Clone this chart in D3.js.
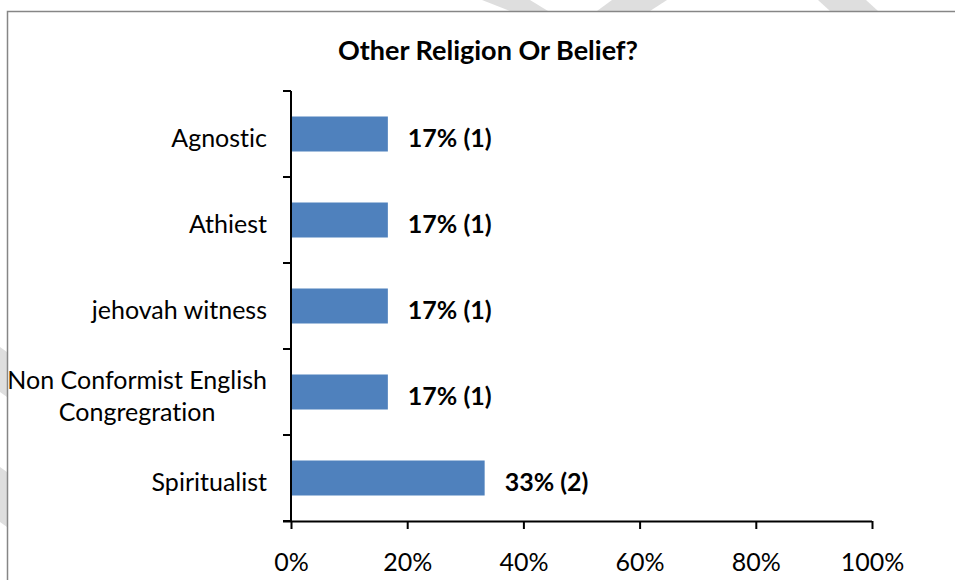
<!DOCTYPE html>
<html><head><meta charset="utf-8">
<script src="https://cdn.jsdelivr.net/npm/d3@7"></script>
<style>
html,body{margin:0;padding:0;background:#fff;overflow:hidden}
text{font-family:Lato,"Open Sans",sans-serif;fill:#000;font-variant-ligatures:none;font-feature-settings:"liga" 0,"clig" 0}
</style></head>
<body><svg id="c" width="955" height="580"></svg>
<script>
const title = "Other Religion Or Belief?";
const categories = ["Agnostic","Athiest","jehovah witness","Non Conformist English Congregration","Spiritualist"];
const categoryLines = [["Agnostic"],["Athiest"],["jehovah witness"],["Non Conformist English","Congregration"],["Spiritualist"]];
const values = [0.1667,0.1667,0.1667,0.1667,0.3333];
const counts = [1,1,1,1,2];
const xTicks = [0,0.2,0.4,0.6,0.8,1.0];

const svg = d3.select("#c");
const W=955,H=580;
const m={left:291,right:83,top:91,bottom:59};

// faint background watermark strokes (outside chart border)
const wm = svg.append("g").attr("fill","#dedede");
[[[482,0],[530,0],[548,11],[510,11]],
 [[612,0],[667,0],[650,11],[597,11]],
 [[818,0],[866,0],[878,11],[830,11]],
 [[0,347],[7,352],[7,397],[0,392]],
 [[0,467],[7,472],[7,527],[0,522]]].forEach(p=>wm.append("polygon").attr("points",p.map(d=>d.join(",")).join(" ")));

// chart frame
svg.append("rect").attr("x",7.5).attr("y",11.5).attr("width",W).attr("height",H)
  .attr("fill","#fff").attr("stroke","#868686").attr("stroke-width",1.5);

const x = d3.scaleLinear().domain([0,1]).range([m.left,W-m.right]);
const y = d3.scaleBand().domain(categories).range([m.top,H-m.bottom]).paddingInner(0.593).paddingOuter(0.2965);

svg.append("text").attr("x",488).attr("y",59.5).attr("text-anchor","middle")
  .style("font-weight","bold").style("font-size","27px").text(title);

// bars
svg.append("g").selectAll("rect").data(categories).join("rect")
  .attr("x",x(0)).attr("y",d=>y(d)).attr("width",(d,i)=>x(values[i])-x(0)).attr("height",y.bandwidth())
  .attr("fill","#4F81BD");

// data labels
const pf = d3.format(".0%");
const base = 13; // baseline offset below band centre
svg.append("g").selectAll("text").data(categories).join("text")
  .attr("x",(d,i)=>x(values[i])+20).attr("y",d=>y(d)+y.bandwidth()/2+base)
  .style("font-weight","bold").style("font-size","25px")
  .text((d,i)=>`${pf(values[i])} (${counts[i]})`);

// x axis
const xa = svg.append("g").attr("transform",`translate(0,${H-m.bottom})`)
  .call(d3.axisBottom(x).tickValues(xTicks).tickFormat(d3.format(".0%")).tickSize(8).tickPadding(20).tickSizeOuter(0));
xa.select(".domain").attr("d",`M${m.left-8},0.5H${W-m.right}`).attr("stroke","#000").attr("stroke-width",2);
xa.selectAll(".tick line").attr("stroke","#000").attr("stroke-width",2);
xa.selectAll(".tick text").style("font-size","25px").style("font-family","Lato,'Open Sans',sans-serif")
  .attr("fill","#000").attr("y",50).attr("dy",null);

// y axis: line + boundary ticks
const step = y.step();
const bounds = d3.range(categories.length+1).map(i=>m.top+i*step);
const ya = svg.append("g");
ya.append("line").attr("x1",m.left).attr("x2",m.left).attr("y1",m.top).attr("y2",H-m.bottom).attr("stroke","#000").attr("stroke-width",2);
ya.selectAll("line.t").data(bounds).join("line").attr("class","t")
  .attr("x1",m.left-8).attr("x2",m.left).attr("y1",d=>d).attr("y2",d=>d).attr("stroke","#000").attr("stroke-width",2);

// category labels
const labelRight = m.left-24;
const lh = 32;
categories.forEach((c,i)=>{
  const lines = categoryLines[i];
  const cy = y(c)+y.bandwidth()/2+base;
  const t = svg.append("text").style("font-size","25px");
  if(lines.length===1){
    t.attr("x",labelRight).attr("y",cy).attr("text-anchor","end").text(lines[0]);
  } else {
    const tmp = svg.append("text").style("font-size","25px").text(lines[0]+" ");
    const w = tmp.node().getComputedTextLength(); tmp.remove();
    const cx = labelRight - w/2;
    lines.forEach((ln,k)=>{
      t.append("tspan").attr("x",cx).attr("y",cy+(k-(lines.length-1)/2)*lh).attr("text-anchor","middle").text(ln);
    });
  }
});
</script></body></html>
